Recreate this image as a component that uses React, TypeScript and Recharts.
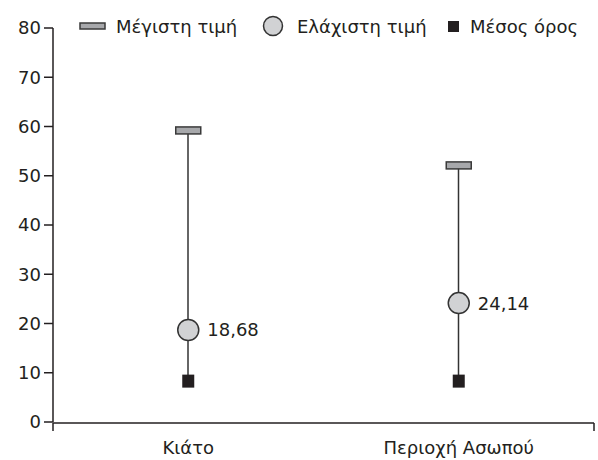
import React from "react";
import { ComposedChart, Bar, Line, XAxis, YAxis, Legend, LabelList } from "recharts";

const categories = ["Κιάτο", "Περιοχή Ασωπού"];
const maxValues = [59.2, 52.1];
const minValues = [18.68, 24.14];
const meanValues = [8.3, 8.3];
const yTicks = [0, 10, 20, 30, 40, 50, 60, 70, 80];
const seriesNames = ["Μέγιστη τιμή", "Ελάχιστη τιμή", "Μέσος όρος"];

const data = categories.map((name, i) => ({
  name,
  max: maxValues[i],
  min: minValues[i],
  mean: meanValues[i],
  range: [meanValues[i], maxValues[i]],
}));

const INK = "#231f20";
const FONT = "'DejaVu Sans', sans-serif";
const FS = 18;

const StemShape = (props: any) => {
  const { x, y, width, height } = props;
  const cx = x + width / 2;
  return <line x1={cx} x2={cx} y1={y} y2={y + height} stroke="#333" strokeWidth={1.5} />;
};

const RectDot = (props: any) => {
  const { cx, cy } = props;
  if (cx == null || cy == null) return null;
  return <rect x={cx - 12.5} y={cy - 3.5} width={25} height={7} fill="#a7a8ab" stroke="#3a3a3a" strokeWidth={1.5} />;
};

const CircleDot = (props: any) => {
  const { cx, cy } = props;
  if (cx == null || cy == null) return null;
  return <circle cx={cx} cy={cy} r={10.5} fill="#d1d2d4" stroke="#333" strokeWidth={1.5} />;
};

const SquareDot = (props: any) => {
  const { cx, cy } = props;
  if (cx == null || cy == null) return null;
  return <rect x={cx - 6} y={cy - 6.5} width={12} height={13} fill={INK} />;
};

const EmptyTick = () => <g />;

const LegendContent = () => (
  <svg width={520} height={26} style={{ display: "block", fontFamily: FONT }}>
    <rect x={1} y={9} width={25} height={6} fill="#a7a8ab" stroke="#3a3a3a" strokeWidth={1.5} />
    <text x={37} y={19} fontSize={FS} fill={INK}>{seriesNames[0]}</text>
    <circle cx={194} cy={12} r={9.5} fill="#d1d2d4" stroke="#333" strokeWidth={1.5} />
    <text x={218} y={19} fontSize={FS} fill={INK}>{seriesNames[1]}</text>
    <rect x={369} y={7} width={11} height={11} fill={INK} />
    <text x={391} y={19} fontSize={FS} fill={INK}>{seriesNames[2]}</text>
  </svg>
);

export default function App() {
  return (
    <div style={{ position: "absolute", left: 0, top: 0, fontFamily: FONT }}>
      <ComposedChart
        width={598}
        height={460}
        data={data}
        margin={{ top: 28, right: 4, bottom: 0, left: 0 }}
      >
        <YAxis
          domain={[0, 80]}
          ticks={yTicks}
          width={53}
          interval={0}
          axisLine={{ stroke: INK, strokeWidth: 1.5 }}
          tickLine={{ stroke: INK, strokeWidth: 1.5 }}
          tickSize={9}
          tickMargin={3}
          tick={{ fontSize: FS, fill: INK }}
        />
        <XAxis
          dataKey="name"
          height={1}
          axisLine={false}
          tickLine={false}
          tickSize={0}
          tickMargin={19}
          tick={{ fontSize: FS, fill: INK }}
        />
        <XAxis
          xAxisId="frame"
          type="number"
          domain={[0, 2]}
          ticks={[0, 1, 2]}
          interval={0}
          height={37}
          axisLine={{ stroke: INK, strokeWidth: 1.5 }}
          tickLine={{ stroke: INK, strokeWidth: 1.5 }}
          tickSize={8}
          tick={EmptyTick}
        />
        <Legend
          layout="horizontal"
          verticalAlign="middle"
          align="center"
          wrapperStyle={{ top: 14, left: 79, width: 520 }}
          content={LegendContent}
        />
        <Bar dataKey="range" barSize={10} shape={StemShape} isAnimationActive={false} legendType="none" />
        <Line dataKey="max" stroke="none" dot={<RectDot />} activeDot={false} isAnimationActive={false} legendType="none" />
        <Line dataKey="mean" stroke="none" dot={<SquareDot />} activeDot={false} isAnimationActive={false} legendType="none" />
        <Line dataKey="min" stroke="none" dot={<CircleDot />} activeDot={false} isAnimationActive={false} legendType="none">
          <LabelList
            dataKey="min"
            position="right"
            offset={19}
            fontSize={FS}
            fill={INK}
            formatter={(v: any) => String(v).replace(".", ",")}
          />
        </Line>
      </ComposedChart>
    </div>
  );
}
